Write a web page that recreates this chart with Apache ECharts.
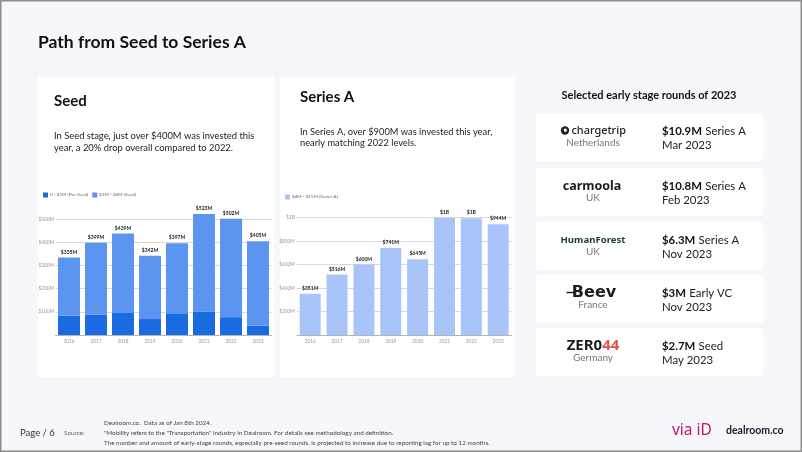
<!DOCTYPE html>
<html>
<head>
<meta charset="utf-8">
<script src="https://cdn.jsdelivr.net/npm/echarts@6/dist/echarts.min.js"></script>
<style>
html,body{margin:0;padding:0;background:#f6f7fb;}
#c{width:802px;height:452px;}
</style>
</head>
<body>
<div id="c"></div>
<script>
// ---- data ----
const years = ['2016','2017','2018','2019','2020','2021','2022','2023'];
const preSeed = [83, 88, 95, 69, 94, 101, 77, 40];
const seed = [252, 311, 344, 273, 303, 422, 425, 365];
const seedTotalLabels = ['$335M','$399M','$439M','$342M','$397M','$523M','$502M','$405M'];
const seriesA = [351, 516, 600, 741, 645, 1000, 995, 944];
const seriesALabels = ['$351M','$516M','$600M','$741M','$645M','$1B','$1B','$944M'];
const seedTicks = {100:'$100M',200:'$200M',300:'$300M',400:'$400M',500:'$500M'};
const seriesATicks = {200:'$200M',400:'$400M',600:'$600M',800:'$800M',1000:'$1B'};
const legendNames = ['0 - $1M (Pre-Seed)','$1M - $4M (Seed)','$4M - $15M (Series A)'];
const deals = [
  {logo:'chargetrip', country:'Netherlands', amount:'$10.9M', type:'Series A', date:'Mar 2023'},
  {logo:'carmoola', country:'UK', amount:'$10.8M', type:'Series A', date:'Feb 2023'},
  {logo:'HumanForest', country:'UK', amount:'$6.3M', type:'Series A', date:'Nov 2023'},
  {logo:'Beev', country:'France', amount:'$3M', type:'Early VC', date:'Nov 2023'},
  {logo:'ZER044', country:'Germany', amount:'$2.7M', type:'Seed', date:'May 2023'}
];

const FONT = 'Lato, "Noto Sans", sans-serif';
const NOTO = '"Noto Sans", sans-serif';
const C_DARK = '#1a6ae0', C_MID = '#5b95f0', C_LIGHT = '#a9c4f8';

const chart = echarts.init(document.getElementById('c'), null, {renderer:'canvas'});

function txt(x, y, text, size, weight, color, align, family) {
  return {
    type:'text', x:x, y:y, silent:true,
    style:{text:text, font: (weight||'normal') + ' ' + size + 'px ' + (family||FONT), fill:color||'#222',
           textAlign:align||'left', textVerticalAlign:'middle'}
  };
}

const graphics = [];
// slide frame
graphics.push({type:'rect', shape:{x:0.75,y:0.75,width:800.5,height:450.5}, style:{fill:'#f6f7fb', stroke:'#8c8c8c', lineWidth:1.5}, z:-10, silent:true});
// title
graphics.push(txt(38, 42, 'Path from Seed to Series A', 17.5, 'bold', '#111'));
// chart cards
graphics.push({type:'rect', shape:{x:38,y:77,width:236,height:300}, style:{fill:'#ffffff'}, z:-5, silent:true});
graphics.push({type:'rect', shape:{x:280,y:77,width:235,height:300}, style:{fill:'#ffffff'}, z:-5, silent:true});
graphics.push(txt(54, 101, 'Seed', 15, 'bold', '#111'));
graphics.push(txt(54, 136, 'In Seed stage, just over $400M was invested this', 9.4, 'normal', '#222'));
graphics.push(txt(54, 147.5, 'year, a 20% drop overall compared to 2022.', 9.4, 'normal', '#222'));
graphics.push(txt(300, 97.5, 'Series A', 15, 'bold', '#111'));
graphics.push(txt(300, 131.5, 'In Series A, over $900M was invested this year,', 9.3, 'normal', '#222'));
graphics.push(txt(300, 143, 'nearly matching 2022 levels.', 9.3, 'normal', '#222'));
// right column
graphics.push(txt(649, 95, 'Selected early stage rounds of 2023', 11, 'bold', '#111', 'center'));
const tops = [113, 168, 222, 275, 328];
deals.forEach(function(d, i){
  const t = tops[i], cy = t + 24;
  graphics.push({type:'rect', shape:{x:535.5,y:t,width:228,height:48,r:4}, style:{fill:'#ffffff'}, z:-5, silent:true});
  if (d.logo === 'chargetrip') {
    graphics.push({type:'circle', shape:{cx:565, cy:cy-6.5, r:4.2}, style:{fill:'#222'}, silent:true});
    graphics.push({type:'circle', shape:{cx:565.3, cy:cy-6.8, r:1.6}, style:{fill:'#fff'}, silent:true});
    graphics.push(txt(571.5, cy-6, 'chargetrip', 10.9, '500', '#222', 'left', NOTO));
  } else if (d.logo === 'carmoola') {
    graphics.push(txt(592, cy-6, 'carmoola', 12.5, 'bold', '#1c1c1c', 'center', NOTO));
  } else if (d.logo === 'HumanForest') {
    graphics.push(txt(593, cy-6, 'HumanForest', 9.6, 'bold', '#1d3b2d', 'center', NOTO));
  } else if (d.logo === 'Beev') {
    graphics.push(txt(594, cy-6, 'Beev', 16, 'bold', '#1c1c1c', 'center', '"DejaVu Sans", sans-serif'));
    graphics.push({type:'line', shape:{x1:566.5,y1:cy-6.5,x2:574,y2:cy-6.5}, style:{stroke:'#1c1c1c', lineWidth:1.4}, z:5, silent:true});
  } else {
    graphics.push({type:'text', x:593, y:cy-6, silent:true, style:{text:'{a|ZER0}{b|44}', textAlign:'center', textVerticalAlign:'middle',
      rich:{a:{font:'bold 15px '+NOTO, fill:'#1c1c1c'}, b:{font:'bold 15px '+NOTO, fill:'#e0524f'}}}});
  }
  graphics.push(txt(593, cy+6, d.country, 10, 'normal', '#777', 'center'));
  graphics.push({type:'text', x:662, y:cy-6, silent:true, style:{text:'{b|'+d.amount+'} {n|'+d.type+'}', textVerticalAlign:'middle',
    rich:{b:{font:'bold 11.4px '+FONT, fill:'#111'}, n:{font:'11.4px '+FONT, fill:'#222'}}}});
  graphics.push(txt(662, cy+8, d.date, 11.4, 'normal', '#222'));
});
// footer
graphics.push(txt(20, 432.5, 'Page / 6', 9.5, 'normal', '#333'));
graphics.push(txt(64, 432.5, 'Source:', 6.3, 'normal', '#666'));
graphics.push(txt(104, 423.3, 'Dealroom.co.  Data as of Jan 8th 2024.', 6.3, 'normal', '#444'));
graphics.push(txt(104, 433.3, '"Mobility refers to the "Transportation" industry in Dealroom. For details see methodology and definition.', 6.3, 'normal', '#444'));
graphics.push(txt(104, 443.3, 'The number and amount of early-stage rounds, especially pre-seed rounds, is projected to increase due to reporting lag for up to 12 months.', 6.3, 'normal', '#444'));
graphics.push(txt(672, 431, 'via iD', 15.5, 'normal', '#c2166b', 'left', NOTO));
graphics.push(txt(726, 431, 'dealroom.co', 10.5, 'bold', '#1b1b2f'));

const axisLabelStyle = {fontSize:4.8, color:'#999', fontFamily:FONT};
const valLabel = {show:true, position:'top', distance:3, fontSize:5, fontWeight:'bold', color:'#222', fontFamily:FONT};

const option = {
  animation:false,
  backgroundColor:'transparent',
  graphic: graphics,
  legend: [
    {left:43, top:192.5, itemWidth:5, itemHeight:5, itemGap:4, icon:'rect', data:[legendNames[0], legendNames[1]],
     textStyle:{fontSize:4.6, color:'#666', fontFamily:FONT, padding:[0,0,0,-3]}, padding:0},
    {left:285, top:194.5, itemWidth:5, itemHeight:5, icon:'rect', data:[legendNames[2]],
     textStyle:{fontSize:4.6, color:'#666', fontFamily:FONT, padding:[0,0,0,-3]}, padding:0}
  ],
  grid: [
    {left:55.5, right:530.5, top:219.3, bottom:117},
    {left:296.8, right:290.4, top:217.7, bottom:117}
  ],
  xAxis: [
    {type:'category', gridIndex:0, data:years, axisTick:{show:false}, axisLine:{lineStyle:{color:'#aaa', width:0.8}},
     axisLabel:Object.assign({margin:4}, axisLabelStyle)},
    {type:'category', gridIndex:1, data:years, axisTick:{show:false}, axisLine:{lineStyle:{color:'#aaa', width:0.8}},
     axisLabel:Object.assign({margin:4}, axisLabelStyle)}
  ],
  yAxis: [
    {type:'value', gridIndex:0, min:0, max:500, interval:100, axisLine:{show:false}, axisTick:{show:false},
     splitLine:{lineStyle:{color:'#cfcfcf', width:0.8}},
     axisLabel:Object.assign({margin:1.5, formatter:function(v){return seedTicks[v]||'';}}, axisLabelStyle)},
    {type:'value', gridIndex:1, min:0, max:1000, interval:200, axisLine:{show:false}, axisTick:{show:false},
     splitLine:{lineStyle:{color:'#cfcfcf', width:0.8}},
     axisLabel:Object.assign({margin:2, formatter:function(v){return seriesATicks[v]||'';}}, axisLabelStyle)}
  ],
  series: [
    {name:legendNames[0], type:'bar', stack:'s', xAxisIndex:0, yAxisIndex:0, data:preSeed, barWidth:22, clip:false,
     itemStyle:{color:C_DARK}},
    {name:legendNames[1], type:'bar', stack:'s', xAxisIndex:0, yAxisIndex:0, data:seed, barWidth:22, clip:false,
     itemStyle:{color:C_MID},
     label:Object.assign({formatter:function(p){return seedTotalLabels[p.dataIndex];}}, valLabel)},
    {name:legendNames[2], type:'bar', xAxisIndex:1, yAxisIndex:1, data:seriesA, barWidth:21, clip:false,
     itemStyle:{color:C_LIGHT},
     label:Object.assign({formatter:function(p){return seriesALabels[p.dataIndex];}}, valLabel)}
  ]
};
chart.setOption(option);
</script>
</body>
</html>
